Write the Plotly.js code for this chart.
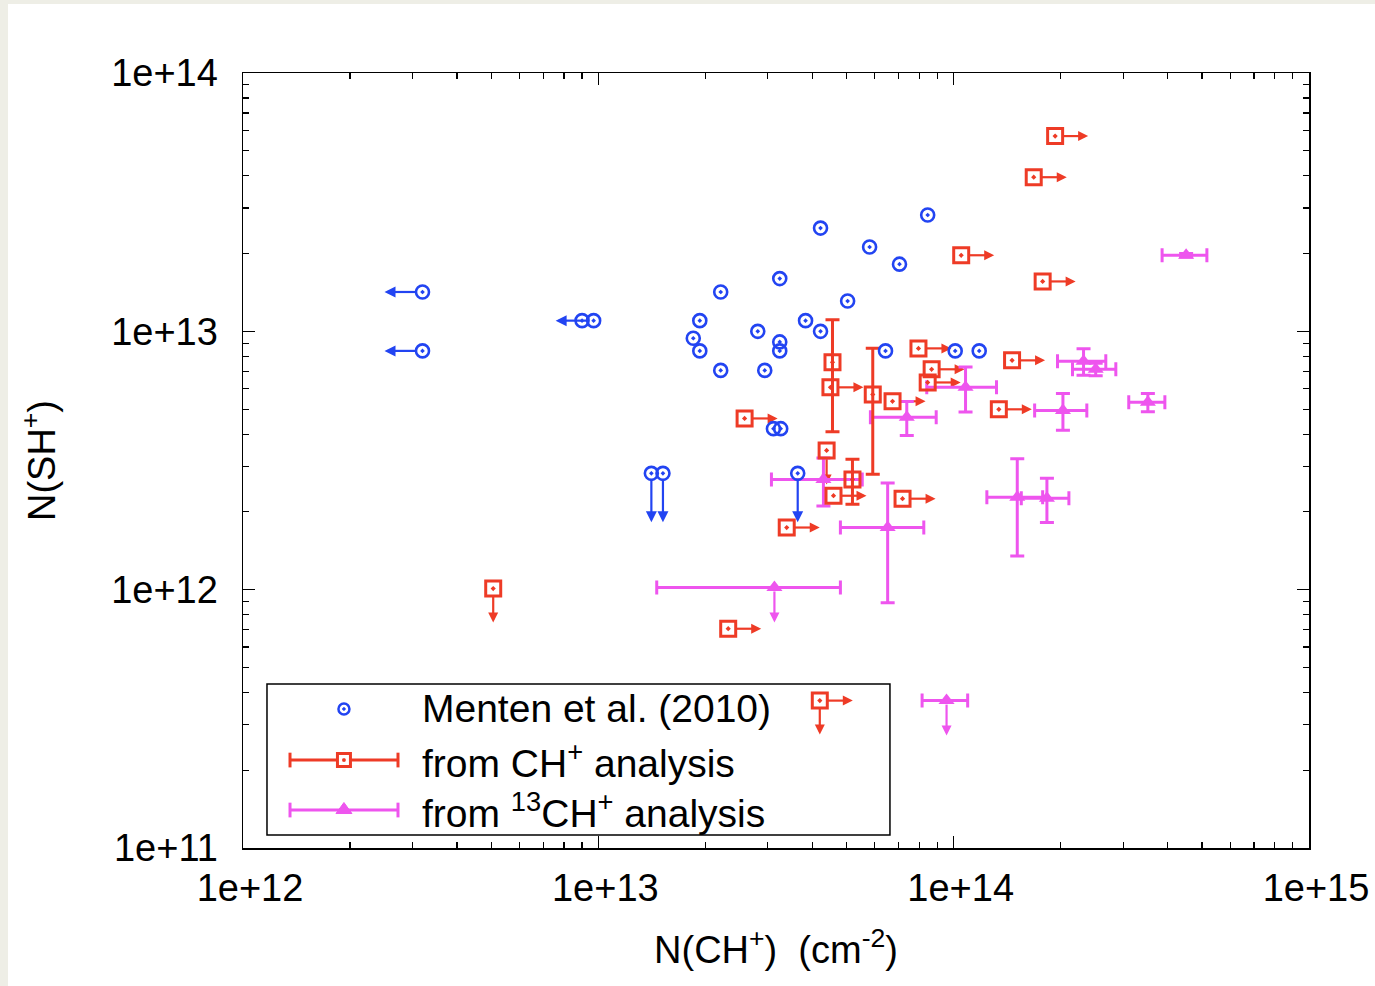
<!DOCTYPE html>
<html>
<head>
<meta charset="utf-8">
<script src="https://cdn.plot.ly/plotly-3.0.1.min.js"></script>
<style>
  html, body { margin: 0; padding: 0; background: #eeeee6; }
  #chart { position: absolute; left: 8px; top: 4px; width: 1367px; height: 982px; background: #ffffff; }
</style>
</head>
<body>
<div id="chart"></div>
<script>
// ---------------- DATA ----------------
// Menten et al. (2010) : N(CH+), N(SH+); limit: L = upper limit in x (left arrow), D = upper limit in y (down arrow)
const mentenX = [3.2e12, 3.2e12, 9.0e12, 9.7e12, 1.41e13, 1.52e13, 3.64e13, 8.45e13, 4.22e13, 5.8e13,
                 7.04e13, 3.24e13, 2.21e13, 5.03e13, 1.93e13, 3.83e13, 2.81e13, 4.22e13, 1.85e13, 1.93e13,
                 3.24e13, 3.24e13, 6.43e13, 1.01e14, 1.18e14, 2.21e13, 2.94e13, 3.11e13, 3.26e13];
const mentenY = [1.42e13, 8.4e12, 1.1e13, 1.1e13, 2.82e12, 2.82e12, 2.82e12, 2.82e13, 2.51e13, 2.12e13,
                 1.82e13, 1.6e13, 1.42e13, 1.31e13, 1.1e13, 1.1e13, 1.0e13, 1.0e13, 9.4e12, 8.4e12,
                 9.1e12, 8.4e12, 8.4e12, 8.4e12, 8.4e12, 7.06e12, 7.06e12, 4.2e12, 4.2e12];
const mentenLimit = ["L", "L", "", "L", "D", "D", "D", "", "", "",
                     "", "", "", "", "", "", "", "", "", "",
                     "", "", "", "", "", "", "", "", ""];

// from CH+ analysis : R = lower limit in x (right arrow), D = upper limit in y (down arrow)
const chX = [1.93e14, 1.68e14, 1.05e14, 1.78e14, 1.46e14, 1.34e14, 7.96e13, 8.67e13, 8.45e13, 6.73e13,
             4.56e13, 4.50e13, 5.92e13, 2.58e13, 4.39e13, 5.19e13, 4.59e13, 7.18e13, 3.39e13, 2.32e13,
             5.06e12, 4.20e13];
const chY = [5.70e13, 3.95e13, 1.97e13, 1.56e13, 7.72e12, 4.99e12, 8.59e12, 7.13e12, 6.34e12, 5.36e12,
             7.59e12, 6.07e12, 5.70e12, 4.60e12, 3.46e12, 2.67e12, 2.31e12, 2.25e12, 1.74e12, 7.06e11,
             1.01e12, 3.72e11];
const chYerr = [0, 0, 0, 0, 0, 0, 0, 0, 0, 0,
                3.5e12, 0, 2.9e12, 0, 0, 0.53e12, 0, 0, 0, 0,
                0, 0];
const chLimit = ["R", "R", "R", "R", "R", "R", "R", "R", "R", "R",
                 "", "R", "", "R", "D", "", "R", "R", "R", "R",
                 "D", "RD"];

// from 13CH+ analysis
const c13X = [4.51e14, 2.32e14, 2.51e14, 2.03e14, 3.52e14, 1.08e14, 7.38e13, 4.30e13, 6.52e13, 1.51e14,
              1.83e14, 3.13e13, 9.55e13];
const c13Y = [1.97e13, 7.66e12, 7.13e12, 4.94e12, 5.31e12, 6.07e12, 4.65e12, 2.67e12, 1.74e12, 2.28e12,
              2.26e12, 1.02e12, 3.72e11];
const c13Xerr = [0.65e14, 0.36e14, 0.35e14, 0.34e14, 0.41e14, 0.24e14, 1.55e13, 1.23e13, 1.72e13, 0.27e14,
                 0.28e14, 1.67e13, 0.14e14];
const c13Yerr = [0.3e12, 0.9e12, 0.4e12, 0.8e12, 0.43e12, 1.2e12, 0.7e12, 0.56e12, 0.85e12, 0.93e12,
                 0.44e12, 0, 0];
const c13Limit = ["", "", "", "", "", "", "", "", "", "",
                  "", "D", "D"];

const xTickVals = [1e12, 1e13, 1e14, 1e15];
const xTickText = ["1e+12", "1e+13", "1e+14", "1e+15"];
const yTickVals = [1e11, 1e12, 1e13, 1e14];
const yTickText = ["1e+11", "1e+12", "1e+13", "1e+14"];

const legendNames = ["Menten et al. (2010)", "from CH<sup>+</sup> analysis", "from <sup>13</sup>CH<sup>+</sup> analysis"];

// ---------------- STYLE ----------------
const BLUE = "#2244f2";
const RED = "#ee3b26";
const MAG = "#ee55ee";
const FONT = "Liberation Sans, Arial, Helvetica, sans-serif";

const W = 1367, H = 982;
const MARGIN = { l: 235, r: 66, t: 69, b: 138 };
const X_RANGE = [12, 15], Y_RANGE = [11, 14];
const PW = W - MARGIN.l - MARGIN.r, PH = H - MARGIN.t - MARGIN.b;
const pxPerDecX = PW / (X_RANGE[1] - X_RANGE[0]);
const pxPerDecY = PH / (Y_RANGE[1] - Y_RANGE[0]);

function pick(arr, idx) { return idx.map(i => arr[i]); }
function idxWhere(n, f) { const r = []; for (let i = 0; i < n; i++) if (f(i)) r.push(i); return r; }

const chErrIdx = idxWhere(chX.length, i => chYerr[i] > 0);
const chNoErrIdx = idxWhere(chX.length, i => !(chYerr[i] > 0));
const c13ErrIdx = idxWhere(c13X.length, i => c13Yerr[i] > 0);
const c13NoErrIdx = idxWhere(c13X.length, i => !(c13Yerr[i] > 0));

const traces = [];

// ---------------- LIMIT ARROWS (lines + arrow-head markers, offsets in screen pixels) ----------------
function arrowTraces(xs, ys, lims, color, lenH, lenV, stand, head) {
  const lx = [], ly = [], hx = [], hy = [], hs = [];
  for (let i = 0; i < xs.length; i++) {
    for (const d of (lims[i] || "").split("")) {
      let sx = 0, sy = 0, len = lenH, sym = "arrow-right";
      if (d === "L") { sx = -1; sym = "arrow-left"; }
      if (d === "R") { sx = 1; sym = "arrow-right"; }
      if (d === "D") { sy = -1; len = lenV; sym = "arrow-down"; }
      const at = (p) => [xs[i] * Math.pow(10, sx * p / pxPerDecX), ys[i] * Math.pow(10, sy * p / pxPerDecY)];
      const a = at(stand), b = at(len - 3), c = at(len);
      lx.push(a[0], b[0], null); ly.push(a[1], b[1], null);
      hx.push(c[0]); hy.push(c[1]); hs.push(sym);
    }
  }
  traces.push({ type: "scatter", mode: "lines", showlegend: false, hoverinfo: "skip",
    x: lx, y: ly, line: { color: color, width: 2.2 } });
  traces.push({ type: "scatter", mode: "markers", showlegend: false, hoverinfo: "skip",
    x: hx, y: hy, marker: { symbol: hs, size: head, color: color, line: { width: 0 } } });
}
arrowTraces(mentenX, mentenY, mentenLimit, BLUE, 38, 49, 6, 11);
arrowTraces(chX, chY, chLimit, RED, 33, 34, 8, 10);
arrowTraces(c13X, c13Y, c13Limit, MAG, 33, 35, 4, 10);

// 13CH+ with x and y error bars
traces.push({
  type: "scatter", mode: "markers", showlegend: false,
  x: pick(c13X, c13ErrIdx), y: pick(c13Y, c13ErrIdx),
  error_x: { type: "data", array: pick(c13Xerr, c13ErrIdx), color: MAG, thickness: 3, width: 7 },
  error_y: { type: "data", array: pick(c13Yerr, c13ErrIdx), color: MAG, thickness: 3, width: 7 },
  marker: { symbol: "triangle-up", size: 14, color: MAG }
});
// 13CH+ limits (x error only)
traces.push({
  type: "scatter", mode: "markers", showlegend: false,
  x: pick(c13X, c13NoErrIdx), y: pick(c13Y, c13NoErrIdx),
  error_x: { type: "data", array: pick(c13Xerr, c13NoErrIdx), color: MAG, thickness: 3, width: 7 },
  marker: { symbol: "triangle-up", size: 14, color: MAG }
});
// CH+ with y error bars
traces.push({
  type: "scatter", mode: "markers", showlegend: false,
  x: pick(chX, chErrIdx), y: pick(chY, chErrIdx),
  error_y: { type: "data", array: pick(chYerr, chErrIdx), color: RED, thickness: 3, width: 7 },
  marker: { symbol: "square-open-dot", size: 15, color: RED, line: { width: 3, color: RED } }
});
// CH+ limits
traces.push({
  type: "scatter", mode: "markers", showlegend: false,
  x: pick(chX, chNoErrIdx), y: pick(chY, chNoErrIdx),
  marker: { symbol: "square-open-dot", size: 15, color: RED, line: { width: 3, color: RED } }
});
// Menten
traces.push({
  type: "scatter", mode: "markers", showlegend: false,
  x: mentenX, y: mentenY,
  marker: { symbol: "circle-open-dot", size: 13, color: BLUE, line: { width: 2.6, color: BLUE } }
});

// ---------------- LEGEND (drawn manually with shapes, paper coordinates) ----------------
const annotations = [];
const legRowY = [0.1794, 0.1135, 0.0490];
const legLineX0 = 0.0441, legLineX1 = 0.1454, legMarkX = 0.0947, legTextX = 0.166;
const capH = 0.0095;
const px2x = (p) => p / PW, px2y = (p) => p / PH;
const shapes = [
  { type: "rect", xref: "paper", yref: "paper", x0: 0.0225, x1: 0.6069, y0: 0.0168, y1: 0.2116,
    line: { color: "#000", width: 1.5 }, fillcolor: "rgba(0,0,0,0)" }
];
[[legRowY[1], RED], [legRowY[2], MAG]].forEach(([yy, c]) => {
  shapes.push({ type: "line", xref: "paper", yref: "paper", x0: legLineX0, x1: legLineX1, y0: yy, y1: yy, line: { color: c, width: 3 } });
  shapes.push({ type: "line", xref: "paper", yref: "paper", x0: legLineX0, x1: legLineX0, y0: yy - capH, y1: yy + capH, line: { color: c, width: 3 } });
  shapes.push({ type: "line", xref: "paper", yref: "paper", x0: legLineX1, x1: legLineX1, y0: yy - capH, y1: yy + capH, line: { color: c, width: 3 } });
});
// blue circle with dot
shapes.push({ type: "circle", xref: "paper", yref: "paper",
  x0: legMarkX - px2x(5.5), x1: legMarkX + px2x(5.5), y0: legRowY[0] - px2y(5.5), y1: legRowY[0] + px2y(5.5),
  line: { color: BLUE, width: 2.5 }, fillcolor: "#ffffff" });
shapes.push({ type: "circle", xref: "paper", yref: "paper",
  x0: legMarkX - px2x(1.3), x1: legMarkX + px2x(1.3), y0: legRowY[0] - px2y(1.3), y1: legRowY[0] + px2y(1.3),
  line: { color: BLUE, width: 1 }, fillcolor: BLUE });
// red square with dot
shapes.push({ type: "rect", xref: "paper", yref: "paper",
  x0: legMarkX - px2x(6.5), x1: legMarkX + px2x(6.5), y0: legRowY[1] - px2y(6.5), y1: legRowY[1] + px2y(6.5),
  line: { color: RED, width: 3 }, fillcolor: "#ffffff" });
shapes.push({ type: "rect", xref: "paper", yref: "paper",
  x0: legMarkX - px2x(1.2), x1: legMarkX + px2x(1.2), y0: legRowY[1] - px2y(1.2), y1: legRowY[1] + px2y(1.2),
  line: { color: RED, width: 1 }, fillcolor: RED });
// magenta triangle
(function () {
  const cx = legMarkX, cy = legRowY[2];
  const p = (dx, dy) => (cx + px2x(dx)).toFixed(5) + "," + (cy + px2y(dy)).toFixed(5);
  shapes.push({ type: "path", xref: "paper", yref: "paper",
    path: "M" + p(-8, -3.5) + " L" + p(8, -3.5) + " L" + p(0, 7.5) + " Z",
    line: { color: MAG, width: 1 }, fillcolor: MAG });
})();
legendNames.forEach((t, i) => {
  annotations.push({
    xref: "paper", yref: "paper", x: legTextX, y: legRowY[i], xanchor: "left", yanchor: "middle",
    text: t, showarrow: false, font: { family: FONT, size: 39, color: "#000" }
  });
});

// ---------------- MINOR TICKS ----------------
function minorVals(d0, d1) {
  const v = [];
  for (let d = d0; d < d1; d++) for (let k = 2; k <= 9; k++) v.push(k * Math.pow(10, d));
  return v;
}

const axisCommon = {
  type: "log", showgrid: false, zeroline: false,
  showline: true, linecolor: "#000", linewidth: 1.5, mirror: "allticks",
  ticks: "inside", ticklen: 12, tickwidth: 1.3, tickcolor: "#000",
  tickfont: { family: FONT, size: 38, color: "#000" },
  tickmode: "array"
};

const layout = {
  width: W, height: H,
  margin: MARGIN,
  paper_bgcolor: "#ffffff", plot_bgcolor: "#ffffff",
  font: { family: FONT, color: "#000" },
  showlegend: false,
  xaxis: Object.assign({}, axisCommon, {
    range: X_RANGE, tickvals: xTickVals, ticktext: xTickText, ticklabelstandoff: 6, ticklabelshift: 7,
    minor: { tickvals: minorVals(12, 15), ticks: "inside", ticklen: 6, tickwidth: 1.2, tickcolor: "#000", showgrid: false },
    title: { text: "N(CH<sup>+</sup>)  (cm<sup>-2</sup>)", font: { family: FONT, size: 38, color: "#000" }, standoff: 28 }
  }),
  yaxis: Object.assign({}, axisCommon, {
    range: Y_RANGE, tickvals: yTickVals, ticktext: yTickText, ticklabelstandoff: 16,
    minor: { tickvals: minorVals(11, 14), ticks: "inside", ticklen: 6, tickwidth: 1.2, tickcolor: "#000", showgrid: false },
    title: { text: "N(SH<sup>+</sup>)", font: { family: FONT, size: 38, color: "#000" }, standoff: 44 }
  }),
  shapes: shapes,
  annotations: annotations
};

Plotly.newPlot("chart", traces, layout, { displayModeBar: false, staticPlot: true });
</script>
</body>
</html>
